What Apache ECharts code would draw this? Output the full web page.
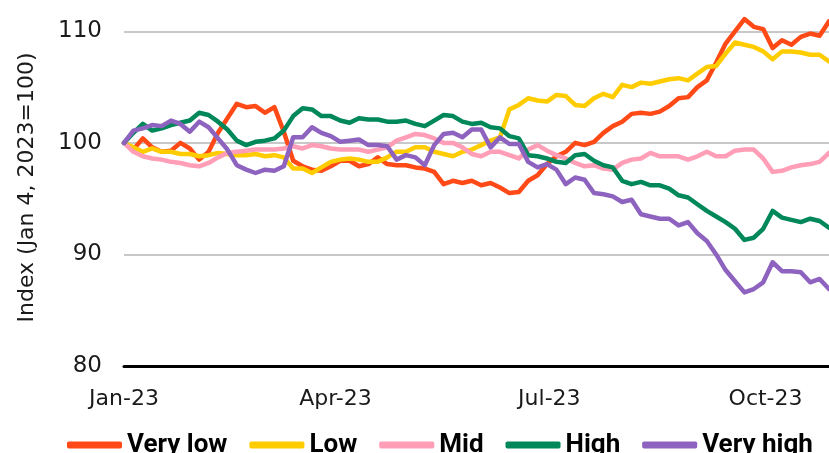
<!DOCTYPE html>
<html>
<head>
<meta charset="utf-8">
<title>Index</title>
<script src="https://cdn.jsdelivr.net/npm/echarts@6/dist/echarts.min.js"></script>
<style>
	html, body { margin: 0; padding: 0; background: #fff; }
	.chart1 { width: 829px; height: 453px; }
</style>
</head>
<body>
<div class="chart1"></div>
<script>
	// days after Jan 4, 2023
	var days = [0, 4, 8, 12, 16, 20, 24, 28, 32, 36, 40, 44, 48, 52, 56, 60, 64, 68, 72, 76,
		80, 84, 88, 92, 96, 100, 104, 108, 112, 116, 120, 124, 128, 132, 136, 140, 144, 148, 152, 156,
		160, 164, 168, 172, 176, 180, 184, 188, 192, 196, 200, 204, 208, 212, 216, 220, 224, 228, 232, 236,
		240, 244, 248, 252, 256, 260, 264, 268, 272, 276, 280, 284, 288, 292, 296, 300];

	var veryLow = [100.0, 99.4, 100.4, 99.6, 99.2, 99.3, 100.0, 99.5, 98.5, 99.2, 100.9, 102.2, 103.5, 103.2, 103.3, 102.7, 103.2, 101.0, 98.4, 97.9,
		97.6, 97.5, 97.9, 98.4, 98.4, 97.9, 98.1, 98.7, 98.1, 98.0, 98.0, 97.8, 97.7, 97.4, 96.3, 96.6, 96.4, 96.6, 96.2, 96.4,
		96.0, 95.5, 95.6, 96.6, 97.1, 98.1, 98.8, 99.2, 100.0, 99.8, 100.1, 100.9, 101.5, 101.9, 102.6, 102.7, 102.6, 102.8, 103.3, 104.0,
		104.1, 105.0, 105.6, 107.2, 108.9, 110.0, 111.1, 110.4, 110.2, 108.5, 109.2, 108.8, 109.5, 109.8, 109.6, 110.9];

	var low = [100.0, 99.6, 99.2, 99.5, 99.2, 99.2, 99.0, 99.0, 98.8, 98.9, 99.1, 99.0, 98.9, 98.9, 99.0, 98.8, 98.9, 98.7, 97.7, 97.7,
		97.3, 97.8, 98.3, 98.5, 98.6, 98.5, 98.3, 98.3, 98.7, 99.2, 99.2, 99.6, 99.6, 99.2, 99.0, 98.8, 99.2, 99.4, 99.8, 100.2,
		100.5, 103.0, 103.4, 104.0, 103.8, 103.7, 104.3, 104.2, 103.4, 103.3, 104.0, 104.4, 104.1, 105.2, 105.0, 105.4, 105.3, 105.5, 105.7, 105.8,
		105.6, 106.2, 106.8, 106.9, 108.0, 109.0, 108.8, 108.6, 108.2, 107.5, 108.2, 108.2, 108.1, 107.9, 107.9, 107.3];

	var mid = [100.0, 99.2, 98.8, 98.6, 98.5, 98.3, 98.2, 98.0, 97.9, 98.2, 98.7, 99.1, 99.2, 99.3, 99.4, 99.4, 99.4, 99.5, 99.7, 99.5,
		99.8, 99.7, 99.5, 99.4, 99.4, 99.4, 99.2, 99.4, 99.6, 100.2, 100.5, 100.8, 100.7, 100.4, 100.0, 100.0, 99.6, 99.0, 98.8, 99.2,
		99.2, 98.9, 98.6, 99.4, 99.8, 99.3, 98.9, 98.6, 98.2, 97.9, 98.0, 97.7, 97.6, 98.2, 98.5, 98.6, 99.1, 98.8, 98.8, 98.8,
		98.5, 98.8, 99.2, 98.8, 98.8, 99.3, 99.4, 99.4, 98.6, 97.4, 97.5, 97.8, 98.0, 98.1, 98.3, 99.1];

	var high = [100.0, 100.9, 101.7, 101.1, 101.3, 101.6, 101.8, 102.0, 102.7, 102.5, 101.9, 101.2, 100.2, 99.8, 100.1, 100.2, 100.4, 101.1, 102.4, 103.1,
		103.0, 102.4, 102.4, 102.0, 101.8, 102.2, 102.1, 102.1, 101.9, 101.9, 102.0, 101.7, 101.5, 102.0, 102.5, 102.4, 101.9, 101.7, 101.8, 101.4,
		101.3, 100.6, 100.4, 98.9, 98.8, 98.6, 98.3, 98.2, 98.9, 99.0, 98.4, 98.0, 97.8, 96.6, 96.3, 96.5, 96.2, 96.2, 95.9, 95.3,
		95.1, 94.5, 93.9, 93.4, 92.9, 92.3, 91.3, 91.5, 92.3, 93.9, 93.3, 93.1, 92.9, 93.2, 93.0, 92.4];

	var veryHigh = [100.0, 101.1, 101.3, 101.6, 101.5, 102.0, 101.7, 101.0, 101.9, 101.4, 100.4, 99.4, 98.0, 97.6, 97.3, 97.6, 97.5, 97.9, 100.5, 100.5,
		101.4, 100.9, 100.6, 100.1, 100.2, 100.3, 99.8, 99.8, 99.7, 98.5, 98.9, 98.7, 98.0, 99.8, 100.8, 100.9, 100.5, 101.2, 101.2, 99.6,
		100.5, 99.9, 99.9, 98.3, 97.8, 98.1, 97.6, 96.3, 96.9, 96.7, 95.5, 95.4, 95.2, 94.7, 94.9, 93.6, 93.4, 93.2, 93.2, 92.6,
		92.9, 91.9, 91.2, 90.0, 88.6, 87.6, 86.6, 86.9, 87.5, 89.3, 88.5, 88.5, 88.4, 87.5, 87.8, 86.9];

	var seriesNames = ['Very low', 'Low', 'Mid', 'High', 'Very high'];
	var seriesColors = ['#ff4a17', '#ffcc00', '#ff9eb6', '#00875a', '#8e63bf'];

	// x tick labels
	var tickDays = [0, 90, 181, 273];
	var tickLabels = ['Jan-23', 'Apr-23', 'Jul-23', 'Oct-23'];

	function pairs(vals) {
		var out = [];
		for (var i = 0; i < days.length; i++) {
			out.push([days[i], vals[i]]);
		}
		return out;
	}

	var allValues = [veryLow, low, mid, high, veryHigh];
	var series = [];
	for (var s = 0; s < seriesNames.length; s++) {
		series.push({
			name: seriesNames[s],
			type: 'line',
			showSymbol: false,
			symbol: 'none',
			animation: false,
			color: seriesColors[s],
			lineStyle: { width: 4.5, color: seriesColors[s], cap: 'round', join: 'round' },
			data: pairs(allValues[s])
		});
	}

	var myChart1 = echarts.init(document.querySelector('.chart1'));
	var option1 = {
		animation: false,
		textStyle: { fontFamily: 'DejaVu Sans' },
		grid: {
			left: 124,
			right: 0,
			top: 9,
			bottom: 87,
			containLabel: false
		},
		legend: {
			data: seriesNames,
			left: 62,
			top: 427,
			icon: 'roundRect',
			itemWidth: 55,
			itemHeight: 7,
			itemGap: 22,
			textStyle: {
				fontFamily: 'Roboto',
				fontWeight: 'bold',
				fontSize: 26,
				color: '#000'
			}
		},
		xAxis: {
			type: 'value',
			min: 0,
			max: 300,
			splitLine: { show: false },
			axisTick: { show: false },
			axisLine: { show: true, lineStyle: { color: '#000', width: 3 } },
			axisLabel: {
				customValues: tickDays,
				margin: 22,
				fontSize: 22,
				color: '#1a1a1a',
				fontFamily: 'DejaVu Sans',
				formatter: function (v) {
					var i = tickDays.indexOf(v);
					return i >= 0 ? tickLabels[i] : '';
				}
			}
		},
		yAxis: {
			type: 'value',
			min: 80,
			max: 112,
			interval: 10,
			name: 'Index (Jan 4, 2023=100)',
			nameLocation: 'middle',
			nameGap: 86,
			nameTextStyle: { fontSize: 22, color: '#1a1a1a', fontFamily: 'DejaVu Sans' },
			axisLine: { show: false },
			axisTick: { show: false },
			axisLabel: {
				margin: 22,
				fontSize: 23,
				color: '#1a1a1a',
				fontFamily: 'DejaVu Sans',
				showMaxLabel: false
			},
			splitLine: { show: true, showMaxLine: false, lineStyle: { color: '#c8c8c8', width: 2 } }
		},
		series: series
	};
	myChart1.setOption(option1);
</script>
</body>
</html>
